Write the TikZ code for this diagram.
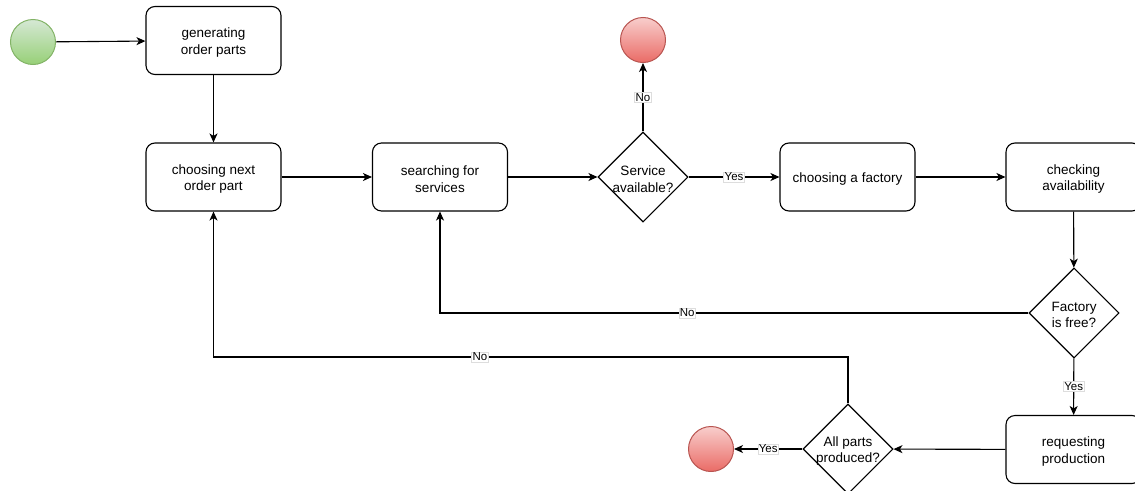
\documentclass[tikz,border=0pt]{standalone}
\usepackage{fontspec}
\setmainfont{Liberation Sans}
\usetikzlibrary{shapes.geometric,arrows.meta}
\definecolor{gfillA}{HTML}{D5E8D4}
\definecolor{gfillB}{HTML}{97D077}
\definecolor{gstroke}{HTML}{82B366}
\definecolor{rfillA}{HTML}{F8CECC}
\definecolor{rfillB}{HTML}{EA6B66}
\definecolor{rstroke}{HTML}{B85450}
\definecolor{lblborder}{HTML}{DDDDDD}
\newcommand\topstrut{\rule{0pt}{14pt}}
\tikzset{
  stepbox/.style={draw=black, line width=1.1pt, rounded corners=9pt, minimum width=135pt, minimum height=68pt, align=center, font=\fontsize{13.5}{16.5}\selectfont, fill=white},
  decision/.style={draw=black, line width=1.1pt, diamond, minimum width=90pt, minimum height=90pt, inner sep=0pt, fill=white},
  dtext/.style={align=center, font=\fontsize{13.5}{16.5}\selectfont, yshift=-2pt},
  startev/.style={circle, draw=gstroke, line width=1pt, minimum size=45pt, inner sep=0pt, top color=gfillA, bottom color=gfillB},
  endev/.style={circle, draw=rstroke, line width=1pt, minimum size=45pt, inner sep=0pt, top color=rfillA, bottom color=rfillB},
  flow/.style={draw=black, line width=1.1pt, -{Stealth[length=9pt,width=8pt,inset=2.5pt]}},
  elabel/.style={fill=white, draw=lblborder, line width=0.5pt, inner sep=1pt, font=\fontsize{11.5}{12}\selectfont}
}
\begin{document}
\begin{tikzpicture}[x=1pt,y=-1pt]
\useasboundingbox (0,0) rectangle (1135,490);
\clip (0,0) rectangle (1135,490);
\node[startev] (start) at (33,42) {};
\node[stepbox] (gen) at (213.5,40.5) {\topstrut generating\\order parts};
\node[stepbox] (next) at (213.5,177) {\topstrut choosing next\\order part};
\node[stepbox] (search) at (440,177) {\topstrut searching for\\services};
\node[decision, label={[dtext]center:Service\\available?}] (svc) at (643,177) {};
\node[endev] (end1) at (643,40) {};
\node[stepbox] (fact) at (847.5,177) {\topstrut choosing a factory};
\node[stepbox] (check) at (1073.5,177) {\topstrut checking\\availability};
\node[decision, label={[dtext]center:Factory\\is free?}] (free) at (1074,313) {};
\node[stepbox] (req) at (1073.5,449.5) {\topstrut requesting\\production};
\node[decision, label={[dtext]center:All parts\\produced?}] (allp) at (848,449) {};
\node[endev] (end2) at (711,449) {};
\coordinate (c1) at (213.5,357);

\draw[flow] (start) -- (gen);
\draw[flow] (gen) -- (next);
\draw[flow] (next) -- (search);
\draw[flow] (search) -- (svc);
\draw[flow] (svc) -- node[elabel] {No} (end1);
\draw[flow] (svc) -- node[elabel] {Yes} (fact);
\draw[flow] (fact) -- (check);
\draw[flow] (check) -- (free);
\draw[flow] (free.west) -| node[elabel, pos=0.29] {No} (search.south);
\draw[flow] (free) -- node[elabel] {Yes} (req);
\draw[flow] (req) -- (allp);
\draw[flow] (allp) -- node[elabel] {Yes} (end2);
\draw[flow] (allp.north) |- node[elabel, pos=0.79] {No} (c1) -- (next.south);
\end{tikzpicture}
\end{document}
